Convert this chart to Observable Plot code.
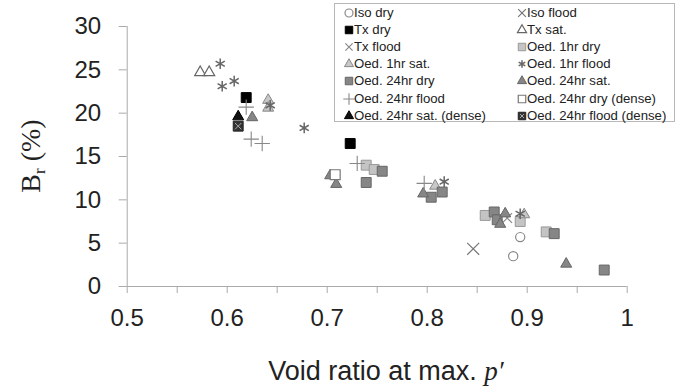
<!DOCTYPE html>
<html><head><meta charset="utf-8">
<script src="https://cdn.jsdelivr.net/npm/d3@7"></script>
<script src="https://cdn.jsdelivr.net/npm/@observablehq/plot@0.6"></script>
<style>
body{margin:0;background:#fff;}
#wrap{position:relative;width:680px;height:387px;font-family:Arial,"Liberation Sans",sans-serif;}
#legend{position:absolute;left:334px;top:3px;width:341px;height:119px;border:1px solid #b8b8b8;background:#fff;box-sizing:border-box;}
.mk{position:absolute;width:12px;height:12px;overflow:visible}
.tx{position:absolute;font-size:13.2px;color:#222;white-space:nowrap;line-height:16px;}
</style></head><body><div id="wrap"></div>
<script>
// ---- data (void ratio at max p', Br %) ----
const seriesNames = ["Iso dry","Iso flood","Tx dry","Tx sat.","Tx flood","Oed. 1hr dry","Oed. 1hr sat.","Oed. 1hr flood","Oed. 24hr dry","Oed. 24hr sat.","Oed. 24hr flood","Oed. 24hr dry (dense)","Oed. 24hr sat. (dense)","Oed. 24hr flood (dense)"];
const isoDry = [[0.893,5.7],[0.886,3.5]];
const isoFlood = [[0.846,4.35]];
const txDry = [[0.619,21.8],[0.723,16.5]];
const txSat = [[0.573,24.7],[0.582,24.7]];
const txFlood = [[0.880,7.9]];
const oed1Dry = [[0.739,14.0],[0.747,13.5],[0.858,8.2],[0.893,7.5],[0.919,6.3]];
const oed1Sat = [[0.641,21.5],[0.641,20.6],[0.808,11.6],[0.897,8.3]];
const oed1Flood = [[0.593,25.7],[0.595,23.1],[0.607,23.7],[0.643,20.9],[0.677,18.3],[0.817,12.1],[0.893,8.4]];
const oed24Dry = [[0.755,13.3],[0.739,12.0],[0.804,10.3],[0.815,10.9],[0.867,8.6],[0.870,7.7],[0.927,6.1],[0.977,1.9]];
const oed24Sat = [[0.625,19.5],[0.703,12.8],[0.709,11.8],[0.796,10.7],[0.873,7.2],[0.878,8.4],[0.939,2.6]];
const oed24Flood = [[0.619,20.7],[0.624,17.0],[0.635,16.5],[0.730,14.2],[0.797,11.9]];
const oed24DryDense = [[0.708,12.9]];
const oed24SatDense = [[0.611,19.6]];
const oed24FloodDense = [[0.611,18.5]];
const xTicks = [0.5,0.55,0.6,0.65,0.7,0.75,0.8,0.85,0.9,0.95,1];
const xTickLabels = ["0.5","0.6","0.7","0.8","0.9","1"];
const yTicks = [0,5,10,15,20,25,30];
const yTickLabels = ["0","5","10","15","20","25","30"];

const seriesData = [isoDry,isoFlood,txDry,txSat,txFlood,oed1Dry,oed1Sat,oed1Flood,oed24Dry,oed24Sat,oed24Flood,oed24DryDense,oed24SatDense,oed24FloodDense];

// ---- styles ----
const styles = {
  "Iso dry":{symbol:"circle",fill:"none",stroke:"#888",r:4.6,sw:1.2,ls:50},
  "Iso flood":{symbol:"times",fill:"none",stroke:"#777",r:5.5,sw:1.2,ls:40},
  "Tx dry":{symbol:"square",fill:"#000",stroke:"#000",r:5.6,sw:1,ls:56},
  "Tx sat.":{symbol:"triangle",fill:"#fff",stroke:"#666",r:4.1,sw:1.2,ls:36},
  "Tx flood":{symbol:"times",fill:"none",stroke:"#888",r:4.5,sw:1.2,ls:36},
  "Oed. 1hr dry":{symbol:"square",fill:"#c4c4c4",stroke:"#999",r:5.6,sw:1,ls:56},
  "Oed. 1hr sat.":{symbol:"triangle",fill:"#c8c8c8",stroke:"#888",r:4.1,sw:1,ls:36},
  "Oed. 1hr flood":{symbol:"asterisk",fill:"none",stroke:"#666",r:5,sw:1.5,ls:40},
  "Oed. 24hr dry":{symbol:"square",fill:"#868686",stroke:"#666",r:5.6,sw:1,ls:56},
  "Oed. 24hr sat.":{symbol:"triangle",fill:"#868686",stroke:"#666",r:4.1,sw:1,ls:36},
  "Oed. 24hr flood":{symbol:"plus",fill:"none",stroke:"#888",r:5,sw:1.1,ls:45},
  "Oed. 24hr dry (dense)":{symbol:"square",fill:"#fff",stroke:"#777",r:5.6,sw:1.2,ls:56},
  "Oed. 24hr sat. (dense)":{symbol:"triangle",fill:"#111",stroke:"#000",r:4.1,sw:1,ls:36},
  "Oed. 24hr flood (dense)":{symbol:"square",fill:"#333",stroke:"#222",r:5.6,sw:1,ls:56,inner:true}
};

const marks = [
  Plot.ruleY([0],{x1:0.5,x2:1,stroke:"#aaa",strokeWidth:1}),
  Plot.ruleX([0.5],{y1:0,y2:30,stroke:"#aaa",strokeWidth:1}),
  Plot.axisY({ticks:yTicks,tickSize:8,tickPadding:18,stroke:"#aaa",fill:"#222",fontSize:24,label:null,
    tickFormat:d=>yTickLabels[yTicks.indexOf(d)]}),
  Plot.axisX({ticks:xTicks,tickSize:7,tickPadding:15,stroke:"#aaa",fill:"#222",fontSize:24,label:null,
    tickFormat:d=>{const k=Math.round(d*100); return k%10===0 ? xTickLabels[(k-50)/10] : "";}})
];
seriesNames.forEach((name,i)=>{
  const s = styles[name];
  marks.push(Plot.dot(seriesData[i],{x:d=>d[0],y:d=>d[1],symbol:s.symbol,r:s.r,fill:s.fill,stroke:s.stroke,strokeWidth:s.sw}));
  if (s.inner) marks.push(Plot.dot(seriesData[i],{x:d=>d[0],y:d=>d[1],symbol:"times",r:3,fill:"none",stroke:"#aaa",strokeWidth:1}));
});

const plot = Plot.plot({
  width:680,height:387,
  marginLeft:126.7,marginRight:53.3,marginTop:26,marginBottom:101,
  x:{domain:[0.5,1]},y:{domain:[0,30]},
  style:{fontFamily:"Arial, 'Liberation Sans', sans-serif",background:"#fff",color:"#222",overflow:"visible"},
  marks
});
const wrap = document.getElementById("wrap");
wrap.appendChild(plot);

// axis titles
const svg = d3.select(plot);
const xt = svg.append("text").attr("x",386).attr("y",380).attr("text-anchor","middle")
  .attr("font-family","Arial, 'Liberation Sans', sans-serif").attr("font-size",27).attr("fill","#222");
xt.append("tspan").text("Void ratio at max. ");
xt.append("tspan").attr("font-family","'Liberation Serif','DejaVu Serif',serif").attr("font-style","italic").text("p′");
const yt = svg.append("text").attr("transform","translate(40,156) rotate(-90)").attr("text-anchor","middle")
  .attr("font-family","'Liberation Serif','Times New Roman',serif").attr("font-size",28).attr("fill","#222");
yt.append("tspan").text("B");
yt.append("tspan").attr("font-size",17).attr("dy",5).text("r");
yt.append("tspan").attr("dy",-5).text(" (%)");

// legend
const legend = document.createElement("div");
legend.id = "legend";
wrap.appendChild(legend);
const symMap = {circle:d3.symbolCircle,times:d3.symbolTimes,square:d3.symbolSquare,triangle:d3.symbolTriangle,asterisk:d3.symbolAsterisk,plus:d3.symbolPlus};
seriesNames.forEach((name,i)=>{
  const s = styles[name];
  const col = i%2, row = Math.floor(i/2);
  const cx = col===0 ? 14 : 187;
  const cy = 9 + row*17.1;
  const ns = "http://www.w3.org/2000/svg";
  const m = document.createElementNS(ns,"svg");
  m.setAttribute("class","mk");
  m.setAttribute("width",12); m.setAttribute("height",12);
  m.style.left=(cx-6)+"px"; m.style.top=(cy-6)+"px";
  const p = document.createElementNS(ns,"path");
  p.setAttribute("d",d3.symbol(symMap[s.symbol],s.ls)());
  p.setAttribute("transform","translate(6,6)");
  p.setAttribute("fill",s.fill); p.setAttribute("stroke",s.stroke); p.setAttribute("stroke-width",s.sw);
  m.appendChild(p);
  if (s.inner){
    const q = document.createElementNS(ns,"path");
    q.setAttribute("d",d3.symbol(d3.symbolTimes,12)());
    q.setAttribute("transform","translate(6,6)");
    q.setAttribute("fill","none"); q.setAttribute("stroke","#aaa");
    m.appendChild(q);
  }
  legend.appendChild(m);
  const t = document.createElement("div");
  t.className="tx";
  t.textContent=name;
  t.style.left=(cx+5)+"px"; t.style.top=(cy-8)+"px";
  legend.appendChild(t);
});
</script></body></html>
